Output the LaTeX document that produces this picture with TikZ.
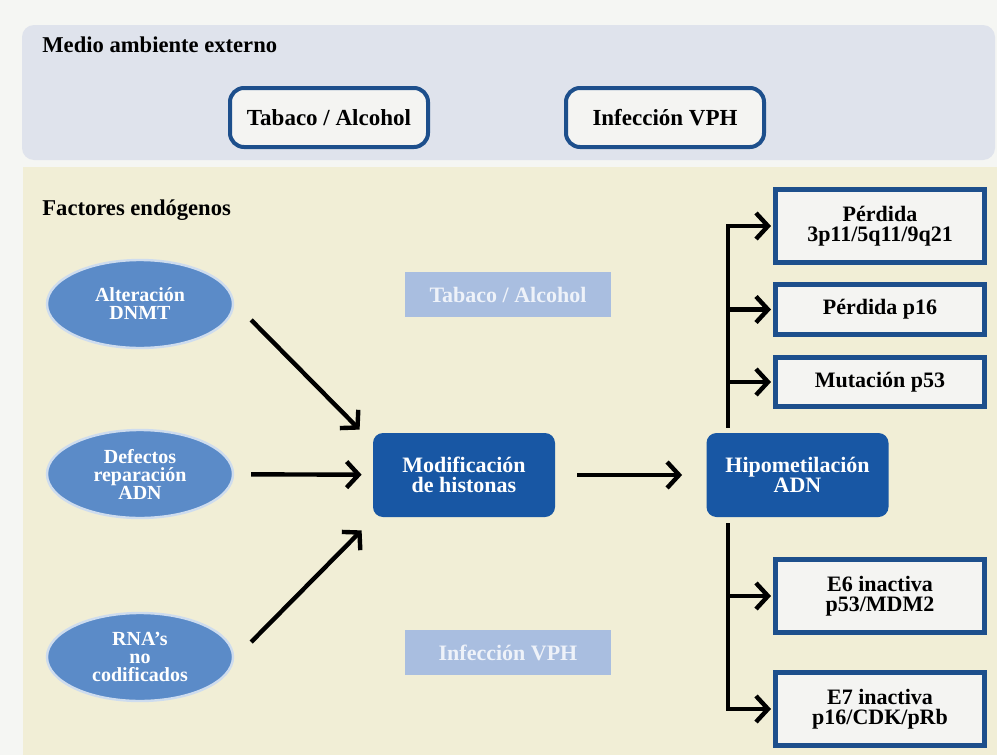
\documentclass[tikz,border=0pt]{standalone}
\usepackage{fontspec}
\setmainfont{Liberation Serif}
\usetikzlibrary{shapes.geometric,arrows.meta}

\definecolor{pagebg}{HTML}{F5F6F3}
\definecolor{extbg}{HTML}{DFE3EC}
\definecolor{endbg}{HTML}{F1EED6}
\definecolor{ellblue}{HTML}{5B8BC8}
\definecolor{darkblue}{HTML}{1857A4}
\definecolor{edgeblue}{HTML}{1D4F8C}
\definecolor{fadeblue}{HTML}{A9BEE0}
\definecolor{boxfill}{HTML}{F4F4F2}

\tikzset{
  paneltitle/.style={anchor=base west, inner sep=0pt, font=\bfseries\fontsize{11.3}{12}\selectfont},
  factor/.style={ellipse, fill=ellblue, draw=white!70!ellblue, line width=1.2pt,
    minimum width=93pt, minimum height=44pt, inner sep=0pt, align=center,
    text=white, font=\bfseries\fontsize{10}{9}\selectfont},
  envbox/.style={rounded corners=7pt, draw=edgeblue, line width=2pt, fill=boxfill,
    minimum width=99pt, minimum height=29.5pt, font=\bfseries\fontsize{11.5}{12}\selectfont},
  ghost/.style={fill=fadeblue, minimum width=103pt, minimum height=22.5pt,
    text=white!80!fadeblue, font=\bfseries\fontsize{11}{12}\selectfont},
  core/.style={rounded corners=5pt, fill=darkblue, minimum width=91pt, minimum height=42pt,
    align=center, text=white, font=\bfseries\fontsize{11}{10}\selectfont},
  effect/.style={draw=edgeblue, line width=2.5pt, fill=boxfill, minimum width=104.5pt,
    align=center, font=\bfseries\fontsize{11}{10}\selectfont},
  arr/.style={line width=2.2pt, -{Straight Barb[length=6pt,width=13pt]}},
  ln/.style={line width=2.2pt}
}

\begin{document}
\begin{tikzpicture}[x=0.5pt,y=-0.5pt]
  \useasboundingbox (0,0) rectangle (997,755);
  \fill[pagebg] (0,0) rectangle (997,755);
  \fill[extbg, rounded corners=6pt] (22,25) rectangle (995,160);
  \fill[endbg] (23,167) rectangle (997,755);

  \node[paneltitle] (ext) at (42,53) {Medio ambiente externo};
  \node[paneltitle] (endo) at (42,215) {Factores endógenos};

  \node[envbox] (tab) at (329,117.5) {Tabaco / Alcohol};
  \node[envbox] (vph) at (665,117.5) {Infección VPH};

  \node[factor] (dnmt) at (140,304) {Alteración\\DNMT};
  \node[factor] (defect) at (140,474) {Defectos\\reparación\\ADN};
  \node[factor] (rna) at (140,657) {RNA's\\no\\codificados};

  \node[ghost] (tabghost) at (508,294.5) {Tabaco / Alcohol};
  \node[ghost] (vphghost) at (508,652.5) {Infección VPH};

  \node[core] (modif) at (464,475) {Modificación\\de histonas};
  \node[core] (hipo) at (797.5,475) {Hipometilación\\ADN};

  \node[effect, minimum height=36.5pt] (loss) at (880,226) {Pérdida\\3p11/5q11/9q21};
  \node[effect, minimum height=25pt] (p16) at (880,309.5) {Pérdida p16};
  \node[effect, minimum height=24.5pt] (p53) at (880,382) {Mutación p53};
  \node[effect, minimum height=36.5pt] (e6) at (880,596) {E6 inactiva\\p53/MDM2};
  \node[effect, minimum height=36.5pt] (e7) at (880,709) {E7 inactiva\\p16/CDK/pRb};

  \draw[arr] ([shift={(17,16)}]dnmt.east) -- ([shift={(-13,-3)}]modif.north west);
  \draw[arr, shorten <=8.5pt, shorten >=5.5pt] (defect) -- (modif);
  \draw[arr] ([shift={(17,-15)}]rna.east) -- ([shift={(-11,13)}]modif.south west);
  \draw[arr, shorten <=11pt, shorten >=12pt] (modif) -- (hipo);

  \coordinate (brup) at ([xshift=11pt,yshift=2.5pt]hipo.north west);
  \coordinate (brdown) at ([xshift=11pt,yshift=-3pt]hipo.south west);
  \draw[arr, shorten >=1pt] (brup) -- (brup |- loss.west) -- (loss.west);
  \draw[arr, shorten >=1pt] (brup |- p16.west) -- (p16.west);
  \draw[arr, shorten >=1pt] (brup |- p53.west) -- (p53.west);
  \draw[arr, shorten >=1pt] (brdown) -- (brdown |- e7.west) -- (e7.west);
  \draw[arr, shorten >=1pt] (brdown |- e6.west) -- (e6.west);
\end{tikzpicture}
\end{document}
